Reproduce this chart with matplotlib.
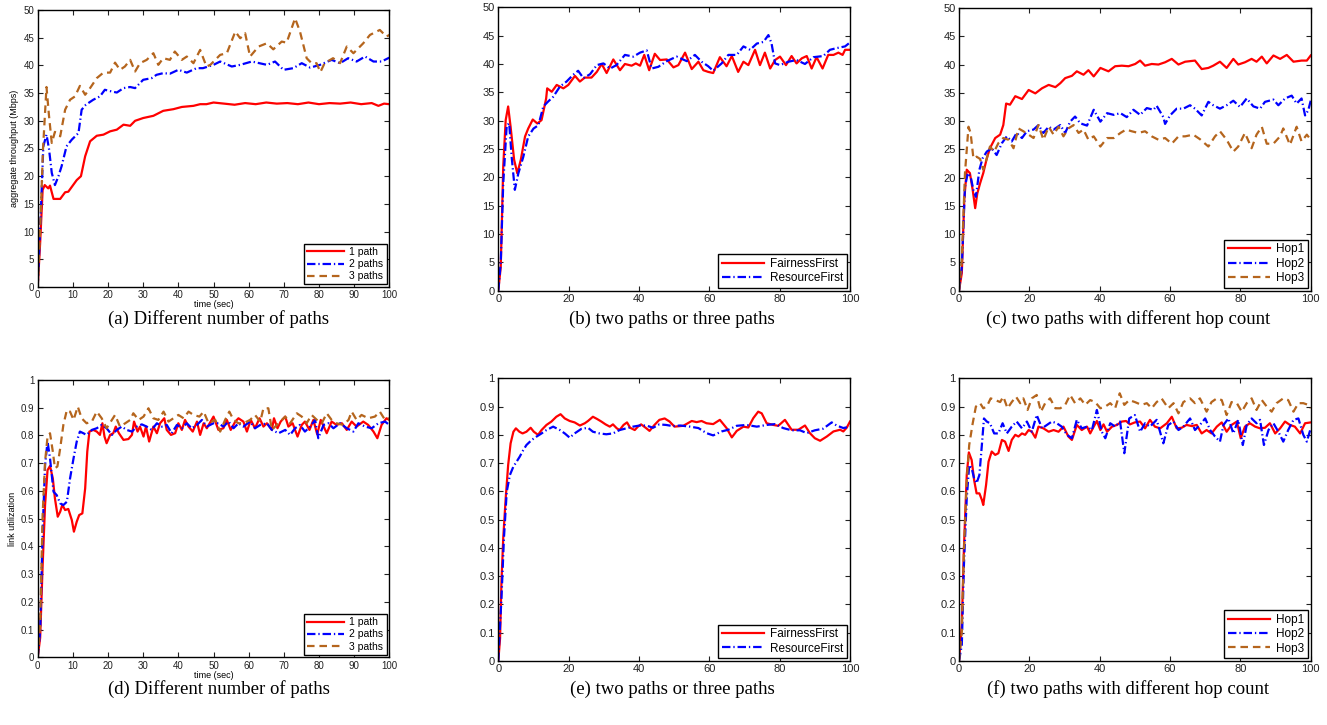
import matplotlib
matplotlib.use('Agg')
import matplotlib.pyplot as plt
from matplotlib.ticker import FuncFormatter

plt.rcParams['font.family'] = ['Liberation Sans', 'DejaVu Sans']

# ---- (a) aggregate throughput, different number of paths ----
t_a_1path = [0, 0.7, 1.4, 2, 3, 3.5, 4.5, 6.4, 7.8, 8.7, 11.1, 12.3, 13.5, 14.9, 16.8, 18.7, 20.6, 22.5, 24.4, 26.3,
             27.7, 30, 32.9, 35.7, 38.6, 41, 44.3, 46.2, 48, 50, 53, 56, 59, 62, 65, 68, 71, 74, 77, 80,
             83, 86, 89, 92, 95, 96.9, 98.5, 100]
a_1path = [0, 8, 17.5, 18.4, 17.8, 18.3, 15.9, 15.9, 17.1, 17.2, 19.3, 20.0, 23.6, 26.3, 27.3, 27.5, 28.1, 28.4, 29.3, 29.1,
           30.0, 30.5, 30.9, 31.8, 32.1, 32.5, 32.7, 33.0, 33.0, 33.3, 33.1, 32.9, 33.2, 33.0, 33.3, 33.1, 33.2, 33.0, 33.3, 33.0,
           33.2, 33.1, 33.3, 33.0, 33.2, 32.7, 33.1, 33.0]

t_a_2paths = [0, 0.8, 1.6, 2.5, 3.2, 4, 4.9, 5.9, 6.8, 8.2, 9.7, 11.6, 12.5, 13.7, 15.8, 17.7, 19.1, 21, 22.5, 24.4,
              26.3, 27.7, 30, 32.4, 33.8, 35.7, 37.6, 40, 42.4, 45.2, 47, 50, 51.9, 55.2, 57.6, 60.9, 65.2, 67.5, 69.9, 72.7,
              75.1, 77.5, 80.3, 83.6, 86, 88.3, 90.7, 93.1, 95.5, 97.8, 100]
a_2paths = [0, 12, 25.4, 27.5, 25, 20.6, 18.4, 20, 21.8, 25.4, 26.6, 27.8, 32, 32.9, 33.8, 34.4, 35.6, 35.3, 35.1, 35.9,
            36.1, 35.9, 37.4, 37.7, 38.3, 38.6, 38.5, 39.2, 38.7, 39.5, 39.5, 40.1, 40.7, 39.8, 40.1, 40.7, 40.1, 40.7, 39.2, 39.5,
            40.4, 39.6, 40.1, 41.0, 40.4, 41.3, 40.7, 41.6, 40.7, 40.7, 41.4]

t_a_3paths = [0, 0.8, 1.5, 2.5, 3.2, 4, 4.9, 6.4, 7.8, 9.2, 10.6, 12, 13.5, 14.9, 16.8, 18.7, 20.6, 22, 23.4, 24.8,
              26.3, 27.7, 29.1, 31, 32.9, 34.3, 35.7, 37.6, 39, 41, 42.4, 44.3, 46.2, 48, 49.1, 51.9, 53.8, 56.2, 57.6, 59,
              60.4, 62.8, 65.2, 67, 69.4, 70.8, 73.2, 74.6, 76.5, 77.9, 79.3, 80.4, 81.6, 84, 86, 87.9, 89.8, 92.6, 94.5, 97.3,
              99.2, 100]
a_3paths = [0, 12, 24.8, 36.1, 31, 26, 28, 27.2, 32, 33.8, 34.4, 36.3, 34.7, 35.9, 37.7, 38.7, 38.7, 40.5, 39.2, 39.8,
            41, 38.9, 40.4, 41, 42.2, 40.1, 41.3, 41, 42.5, 41, 41.6, 40.4, 42.8, 39.8, 40.1, 41.9, 42.2, 46.1, 44.9, 45.8,
            41.6, 43.4, 44, 42.9, 44.3, 44.1, 48.5, 46.1, 41.3, 40.4, 40.4, 38.8, 40.4, 41.3, 40.4, 43.4, 42.2, 44, 45.5, 46.4,
            45.2, 45.5]

# ---- (b) FairnessFirst vs ResourceFirst throughput ----
t_b_fair = [0, 0.7, 1.4, 2.1, 2.8, 3.5, 4.5, 5.4, 6.4, 7.6, 8.5, 9.8, 11.1, 12.3, 13.6, 13.9, 15.2, 16.6, 18.5, 19.9,
            21.8, 23.2, 24.6, 26.5, 28, 29.4, 30.8, 32.7, 34.6, 36, 37.9, 39.1, 40.3, 41.5, 42.9, 44.5, 46, 47.9, 49.8, 51.2,
            53.1, 55, 56.9, 58.3, 59.7, 61.1, 63, 64.9, 66.4, 68.2, 69.7, 71.1, 73, 74.4, 75.8, 77.3, 78.7, 80.1, 81.8, 83.4,
            84.8, 86.3, 87.7, 89.1, 90.5, 92.2, 93.8, 95.3, 96.7, 97.9, 98.6, 100]
b_fair = [0, 4.2, 21.9, 30.1, 32.5, 28.9, 23.1, 20.7, 23.1, 27.2, 28.6, 30.2, 29.5, 30.1, 33.9, 35.7, 35.1, 36.3, 35.7, 36.3,
          37.9, 36.9, 37.6, 37.6, 38.6, 40, 38.4, 40.8, 38.9, 40, 39.7, 40.1, 39.7, 41.6, 38.9, 41.8, 40.7, 40.8, 39.4, 39.8,
          42, 39.1, 40.4, 38.9, 38.6, 38.4, 41.2, 39.6, 41.4, 38.6, 40.4, 39.8, 42.5, 39.8, 42, 39.2, 40.7, 41.3, 39.8, 41.4,
          40.1, 41, 41.4, 39.2, 41.2, 39.2, 41.6, 41.6, 42, 41.6, 42.5, 42.5]

t_b_res = [0, 0.7, 1.4, 2.4, 3.1, 3.8, 4.7, 5.7, 7.1, 8.5, 10, 11.4, 12.8, 14.2, 15.6, 17.5, 19.4, 21.3, 22.7, 24.2,
           26.1, 28, 29.9, 31.8, 33.6, 36, 38.4, 40.3, 42.2, 43.6, 45.5, 47.9, 50.7, 53.6, 55.9, 57.8, 59.7, 61.1, 63.5, 65.4,
           67.8, 69.7, 71.6, 73.5, 75.4, 76.8, 77.7, 78.7, 80.1, 82.5, 84.8, 87.2, 89.6, 92.4, 94.3, 96.2, 98.6, 100]
b_res = [0, 5, 18.9, 29.2, 29.5, 23.6, 17.8, 20.7, 23.6, 27.2, 28.6, 29.2, 32.5, 33.4, 34.2, 36, 36.9, 38.1, 38.8, 37.5,
         38.2, 39.8, 40.1, 39.2, 39.8, 41.6, 41.3, 42, 42.4, 39.2, 39.5, 40.5, 41.3, 40.5, 41.6, 40.4, 39.6, 38.8, 40.1, 41.6,
         41.6, 43.1, 42.5, 43.6, 43.9, 45.1, 43.6, 40.1, 39.8, 40.4, 40.7, 40, 41.2, 41.4, 42.5, 42.8, 43.1, 43.8]

# ---- (c) hop count throughput ----
t_c_hop1 = [0, 0.8, 1.5, 2.2, 3.1, 3.9, 4.6, 5.2, 6, 6.9, 7.9, 8.8, 10.3, 11.7, 12.6, 13.4, 14.5, 16, 17.9, 19.8,
            21.7, 23.6, 25.5, 27.4, 28.8, 30.2, 32.1, 33.5, 35.4, 36.8, 38.3, 40.2, 42.5, 44.4, 46.3, 48.2, 50.1, 51.5, 52.9, 54.8,
            56.7, 58.6, 60.5, 62.4, 64.3, 67.1, 69, 70.9, 72.3, 74.2, 76.1, 78, 79.4, 81.3, 83.2, 84.6, 86.1, 87.5, 89.4, 91.3,
            93.2, 95.1, 97.4, 98.9, 100]
c_hop1 = [0, 3.1, 16.1, 21.4, 20.8, 17.8, 14.6, 17.2, 19, 20.8, 23.4, 25.2, 27, 27.6, 29.3, 33.1, 32.9, 34.4, 33.9, 35.5,
          34.9, 35.8, 36.4, 36, 36.7, 37.6, 38, 38.8, 38.2, 39, 37.9, 39.4, 38.8, 39.7, 39.8, 39.7, 40.1, 40.7, 39.8, 40.1,
          40, 40.4, 41, 40, 40.5, 40.7, 39.2, 39.4, 39.8, 40.5, 39.4, 41, 40, 40.4, 41, 40.5, 41.4, 40.2, 41.6, 41,
          41.7, 40.5, 40.7, 40.7, 41.6]

t_c_hop2 = [0, 0.8, 1.7, 2.5, 3.3, 4.1, 4.8, 5.8, 6.7, 7.9, 9.3, 10.7, 12.2, 13.6, 15, 16.4, 17.9, 19.3, 21.2, 22.6,
            24, 25.5, 26.9, 28.8, 30.2, 31.6, 33, 34.5, 36.4, 38.3, 40.2, 42.1, 44, 45.9, 47.7, 49.6, 51.5, 53.4, 55.3, 56.2,
            58.1, 58.6, 60, 61.9, 63.8, 65.7, 67.1, 69, 70.9, 72.3, 74.2, 76.1, 78, 79.9, 81.8, 83.7, 85.6, 87, 89.4, 90.8,
            92.7, 94.6, 96, 97.4, 98.4, 99.3, 100]
c_hop2 = [0, 4.2, 18.4, 20.8, 20.2, 17.8, 16.6, 21.4, 23.4, 24.6, 25.2, 24, 26.1, 27.3, 26.4, 27.9, 27, 28.2, 28.5, 29.3,
          27.9, 29, 28.5, 29.3, 27.9, 29.9, 30.8, 29.6, 29.2, 32, 29.9, 31.4, 31.1, 31.4, 30.7, 32, 31.1, 32.3, 32, 32.7,
          30.7, 29.5, 31, 32.2, 32.2, 32.8, 32.2, 31, 33.4, 32.8, 32.2, 32.8, 33.6, 32.5, 34, 32.6, 32.2, 33.4, 33.8, 32.8,
          34, 34.5, 33.1, 34, 31, 31.9, 33.6]

t_c_hop3 = [0, 0.8, 1.7, 2.7, 3.3, 4.1, 5, 6, 6.9, 7.9, 8.8, 10, 11.2, 12.6, 14.1, 15.5, 16.9, 18.3, 19.8, 21.2,
            22.6, 24, 25.5, 26.9, 28.3, 29.7, 31.1, 32.6, 34, 35.4, 36.8, 38.3, 40.2, 42.1, 44, 45.9, 47.5, 49.1, 51, 52.9,
            54.8, 56.7, 58.6, 60.5, 62.4, 64.3, 66.6, 68.5, 70.9, 72.8, 74.2, 76.1, 78, 79.4, 81.3, 83.2, 84.6, 86.1, 87.5, 89.4,
            91.3, 92.2, 94.1, 96, 97.4, 98.9, 100]
c_hop3 = [0, 5.4, 20.8, 29, 27.9, 23.4, 23.7, 23.3, 21.4, 23.4, 25.5, 24.6, 26.1, 27, 26.7, 25.2, 28.7, 28.2, 27.6, 27,
          29.3, 26.7, 29, 27.6, 29, 27.3, 28.7, 29.3, 27.9, 28.5, 26.7, 27.3, 25.5, 27, 27, 27.9, 28.5, 28.2, 27.9, 28.2,
          27.3, 26.7, 27, 26, 27.3, 27.3, 27.6, 26.8, 25.5, 27.3, 28.2, 26.7, 24.6, 25.5, 27.9, 25.2, 27.6, 29, 26, 26,
          27.3, 28.7, 25.8, 29, 26.4, 27.6, 26.7]

# ---- (d) link utilization, different number of paths ----
t_d_1path = [0, 0.7, 1.4, 2.1, 2.8, 3.5, 4.3, 4.9, 5.7, 6.4, 7, 7.8, 8.7, 9.7, 10.3, 11.1, 11.8, 12.7, 13.5, 14.1,
             14.7, 15.8, 16.8, 17.7, 18.4, 19, 19.6, 20.6, 21.5, 22.2, 23.1, 24.4, 25.8, 26.8, 27.4, 28.4, 29.1, 30.1, 30.8, 31.7,
             32.9, 33.9, 34.8, 36, 36.7, 37.9, 39.1, 40, 41, 41.9, 42.9, 44.1, 45.3, 46.2, 47.2, 48.1, 50, 51.4, 52.8, 53.8,
             54.9, 56.2, 57.1, 58.5, 59.5, 60.6, 61.8, 63.1, 64.2, 65.2, 66.6, 67.2, 68.2, 69.1, 70.4, 71.3, 72.5, 73.9, 75.1, 76,
             77.3, 78.4, 79.5, 80.5, 82.2, 83.6, 85, 86.5, 87.9, 89.3, 90.7, 92.6, 94, 95.5, 96.6, 97.8, 99.2, 100]
d_1path = [0, 0.07, 0.33, 0.55, 0.675, 0.69, 0.645, 0.573, 0.507, 0.525, 0.55, 0.531, 0.535, 0.495, 0.453, 0.489, 0.513, 0.519, 0.609, 0.742,
           0.814, 0.82, 0.814, 0.802, 0.844, 0.796, 0.772, 0.802, 0.808, 0.832, 0.808, 0.784, 0.787, 0.802, 0.85, 0.814, 0.832, 0.796, 0.832, 0.778,
           0.832, 0.808, 0.844, 0.862, 0.82, 0.802, 0.808, 0.844, 0.82, 0.856, 0.832, 0.814, 0.85, 0.802, 0.844, 0.826, 0.868, 0.82, 0.826, 0.856,
           0.82, 0.85, 0.862, 0.85, 0.814, 0.856, 0.826, 0.862, 0.832, 0.844, 0.82, 0.862, 0.826, 0.85, 0.868, 0.832, 0.844, 0.796, 0.838, 0.85,
           0.82, 0.856, 0.804, 0.856, 0.808, 0.85, 0.838, 0.844, 0.82, 0.85, 0.832, 0.85, 0.838, 0.814, 0.79, 0.838, 0.862, 0.856]

t_d_2paths = [0, 0.7, 1.4, 2.1, 2.8, 3.5, 4.5, 5.4, 6.4, 7.3, 8.3, 9.2, 10.2, 11.1, 12, 13, 13.9, 15.4, 16.8, 18.2,
              19.6, 21.1, 22.5, 23.9, 25.3, 26.8, 28.2, 29.6, 31, 32.4, 33.9, 35.3, 36.7, 38.1, 39.6, 41, 42.4, 43.8, 45.3, 46.7,
              48.1, 50, 51.4, 52.8, 54.3, 55.7, 57.1, 58.5, 60.4, 61.8, 63.3, 65.2, 66.6, 68.5, 70.4, 71.8, 73.2, 74.6, 76, 77.5,
              78.9, 79.8, 81.3, 82.7, 84.1, 86, 87.9, 89.8, 91.2, 93.1, 95, 96.9, 98.8, 100]
d_2paths = [0, 0.093, 0.453, 0.694, 0.778, 0.718, 0.597, 0.585, 0.555, 0.549, 0.561, 0.645, 0.718, 0.778, 0.814, 0.808, 0.802, 0.82, 0.826, 0.838,
            0.826, 0.802, 0.82, 0.832, 0.82, 0.814, 0.832, 0.84, 0.832, 0.82, 0.844, 0.832, 0.838, 0.808, 0.838, 0.826, 0.844, 0.826, 0.838, 0.856,
            0.832, 0.844, 0.844, 0.832, 0.85, 0.826, 0.844, 0.832, 0.85, 0.826, 0.838, 0.844, 0.82, 0.808, 0.82, 0.802, 0.826, 0.838, 0.814, 0.832,
            0.856, 0.79, 0.838, 0.844, 0.826, 0.844, 0.826, 0.814, 0.844, 0.832, 0.826, 0.844, 0.85, 0.838]

t_d_3paths = [0, 0.7, 1.4, 2.1, 2.8, 3.5, 4.3, 4.9, 5.6, 6.4, 7.3, 8.3, 9.2, 10.2, 11.4, 12.5, 13.9, 15.4, 16.8, 18.2,
              19.6, 21.1, 22, 23.4, 24.9, 26.3, 27.2, 28.7, 30.1, 31.5, 32.9, 34.3, 35.8, 37.2, 38.6, 40, 41.5, 42.9, 44.3, 46,
              47.2, 48.6, 50.5, 51.9, 53.3, 54.5, 55.7, 57.1, 58.5, 60.4, 61.8, 63.3, 64.2, 65.6, 66.6, 68.5, 70.4, 71.8, 73.7, 75.1,
              76.5, 77.9, 79.4, 80.8, 82.2, 83.6, 85, 86.9, 88.4, 89.3, 90.7, 92.1, 94, 95.9, 97.3, 98.8, 100]
d_3paths = [0, 0.117, 0.513, 0.706, 0.796, 0.808, 0.742, 0.682, 0.688, 0.754, 0.838, 0.892, 0.886, 0.856, 0.904, 0.862, 0.844, 0.85, 0.886, 0.862,
            0.826, 0.856, 0.874, 0.832, 0.844, 0.856, 0.88, 0.856, 0.868, 0.898, 0.862, 0.856, 0.886, 0.85, 0.862, 0.874, 0.862, 0.886, 0.874, 0.868,
            0.886, 0.844, 0.856, 0.814, 0.856, 0.886, 0.856, 0.844, 0.844, 0.856, 0.874, 0.85, 0.898, 0.898, 0.82, 0.844, 0.868, 0.844, 0.88, 0.868,
            0.844, 0.874, 0.856, 0.844, 0.88, 0.856, 0.844, 0.838, 0.856, 0.886, 0.856, 0.874, 0.862, 0.868, 0.886, 0.856, 0.862]

# ---- (e) FairnessFirst vs ResourceFirst utilization ----
t_e_fair = [0, 0.5, 0.9, 1.4, 2.1, 2.8, 3.5, 4.3, 5, 6, 6.9, 8, 9.2, 10.1, 11.3, 12.3, 13.7, 15.1, 16.5, 17.7,
            18.9, 20.3, 21.7, 23.2, 24.6, 25.5, 26.9, 28.1, 29.3, 30.5, 31.7, 32.6, 33.7, 34.5, 35.6, 36.6, 37.5, 38.8, 39.7, 40.6,
            41.9, 43, 44.4, 45.8, 47.3, 48.7, 50.1, 52.6, 55, 56.4, 57.8, 59.2, 61.1, 63, 64.9, 66.4, 67.8, 69.7, 71.1, 72.5,
            73.9, 74.9, 76.3, 78.2, 79.6, 81.5, 83.4, 85.3, 87.2, 88.6, 90, 91.5, 93.4, 95.3, 97.2, 98.1, 99.1, 100]
e_fair = [0, 0.08, 0.28, 0.434, 0.575, 0.693, 0.77, 0.811, 0.823, 0.811, 0.805, 0.811, 0.825, 0.811, 0.8, 0.817, 0.835, 0.847, 0.864, 0.873,
          0.858, 0.849, 0.844, 0.833, 0.841, 0.849, 0.864, 0.856, 0.847, 0.837, 0.829, 0.837, 0.823, 0.817, 0.835, 0.844, 0.825, 0.817, 0.829, 0.837,
          0.825, 0.814, 0.835, 0.853, 0.858, 0.847, 0.829, 0.832, 0.849, 0.845, 0.849, 0.841, 0.838, 0.853, 0.824, 0.791, 0.814, 0.829, 0.826, 0.859,
          0.882, 0.876, 0.841, 0.835, 0.832, 0.853, 0.818, 0.818, 0.833, 0.806, 0.788, 0.779, 0.794, 0.812, 0.818, 0.812, 0.826, 0.847]

t_e_res = [0, 0.5, 0.9, 1.6, 2.4, 3.3, 4.3, 5.2, 6.1, 7.1, 8, 9.5, 10.9, 12.3, 13.7, 15.6, 17.5, 18.9, 20.3, 21.7,
           23.6, 25.5, 26.9, 28.8, 30.7, 32.6, 34.5, 36.4, 38.3, 40.2, 42.1, 44, 45.8, 47.7, 49.6, 51.7, 54.5, 56.9, 59.2, 61.1,
           63.5, 65.4, 67.8, 70.6, 73.5, 76.3, 78.7, 81, 83.4, 85.8, 87.7, 90, 92.4, 94.8, 96.2, 98.1, 100]
e_res = [0, 0.127, 0.222, 0.434, 0.599, 0.658, 0.688, 0.705, 0.723, 0.746, 0.764, 0.782, 0.794, 0.805, 0.817, 0.829, 0.817, 0.805, 0.79, 0.805,
         0.821, 0.825, 0.811, 0.805, 0.802, 0.805, 0.817, 0.823, 0.829, 0.833, 0.833, 0.825, 0.837, 0.835, 0.831, 0.833, 0.829, 0.824, 0.806, 0.798,
         0.812, 0.818, 0.832, 0.835, 0.829, 0.835, 0.838, 0.824, 0.816, 0.816, 0.806, 0.816, 0.822, 0.844, 0.833, 0.824, 0.829]

# ---- (f) hop count utilization ----
t_f_hop1 = [0, 0.8, 1.4, 2.2, 2.8, 3.6, 4.3, 5, 5.8, 6.5, 6.9, 7.7, 8.4, 9.3, 10.3, 11.2, 12.2, 13.1, 14.1, 15,
            16, 16.9, 17.9, 18.8, 19.8, 20.7, 21.7, 22.6, 24, 25.5, 26.9, 28.3, 29.7, 31.1, 32.1, 33.5, 34.9, 36.4, 37.3, 38.3,
            39.2, 40.2, 41.1, 42.1, 43.5, 44.9, 46.3, 47.5, 48.6, 50, 51.5, 52.9, 54.3, 55.7, 57.2, 59.1, 60.5, 61.9, 63.3, 64.7,
            66.2, 67.6, 69, 70.4, 71.8, 73.3, 74.7, 76.1, 77.5, 79, 80.1, 81.3, 82.7, 84.2, 85.6, 87, 88.4, 89.9, 91.3, 92.7,
            94.1, 95.5, 97, 98.4, 100]
f_hop1 = [0, 0.127, 0.399, 0.658, 0.738, 0.711, 0.64, 0.593, 0.593, 0.57, 0.552, 0.623, 0.705, 0.741, 0.729, 0.735, 0.782, 0.776, 0.743, 0.782,
          0.8, 0.794, 0.805, 0.8, 0.817, 0.811, 0.79, 0.829, 0.823, 0.811, 0.817, 0.811, 0.829, 0.794, 0.782, 0.835, 0.817, 0.829, 0.805, 0.829,
          0.849, 0.817, 0.837, 0.811, 0.829, 0.835, 0.847, 0.849, 0.837, 0.844, 0.847, 0.823, 0.853, 0.829, 0.823, 0.841, 0.864, 0.823, 0.825, 0.835,
          0.831, 0.835, 0.805, 0.817, 0.805, 0.829, 0.844, 0.811, 0.835, 0.847, 0.788, 0.829, 0.841, 0.829, 0.823, 0.825, 0.841, 0.805, 0.823, 0.847,
          0.835, 0.829, 0.805, 0.841, 0.844]

t_f_hop2 = [0, 0.8, 1.4, 2.2, 2.9, 3.6, 4.3, 5, 5.8, 6.5, 7.1, 7.9, 8.8, 10, 11.2, 12.4, 13.6, 15, 16.4, 17.9,
            19.3, 20.7, 22.1, 23.6, 25, 26.4, 27.8, 29.2, 30.7, 32.1, 33.5, 34.9, 36.4, 37.8, 39.2, 40.6, 41.6, 43, 44.4, 45.8,
            47, 48.4, 50, 51.5, 52.9, 54.3, 56.2, 58.1, 59.5, 61, 62.4, 63.8, 65.7, 67.1, 68.5, 70, 71.4, 72.8, 74.2, 75.2,
            76.6, 78, 79.4, 80.7, 81.8, 83.2, 84.6, 85.6, 86.7, 88, 89.4, 90.8, 92.2, 93.6, 95.1, 96.5, 97.9, 98.9, 100]
f_hop2 = [0, 0.057, 0.34, 0.575, 0.693, 0.682, 0.646, 0.629, 0.658, 0.764, 0.858, 0.847, 0.841, 0.805, 0.805, 0.841, 0.805, 0.829, 0.847, 0.823,
          0.847, 0.811, 0.87, 0.823, 0.835, 0.847, 0.841, 0.829, 0.8, 0.788, 0.853, 0.823, 0.829, 0.817, 0.888, 0.811, 0.788, 0.841, 0.829, 0.847,
          0.735, 0.858, 0.87, 0.811, 0.841, 0.829, 0.853, 0.77, 0.835, 0.847, 0.817, 0.829, 0.858, 0.817, 0.835, 0.858, 0.817, 0.794, 0.776, 0.835,
          0.858, 0.805, 0.853, 0.764, 0.835, 0.858, 0.841, 0.853, 0.764, 0.817, 0.841, 0.811, 0.776, 0.817, 0.853, 0.858, 0.8, 0.776, 0.823]

t_f_hop3 = [0, 0.8, 1.4, 2.2, 2.9, 3.9, 4.8, 6, 6.9, 7.9, 9, 10.3, 11.7, 12.6, 13.8, 15, 16.2, 17.4, 18.3, 19.5,
            20.7, 22.1, 23.3, 24.5, 25.9, 27.4, 28.8, 30.2, 31.6, 33, 34.5, 35.9, 37.3, 38.7, 40.2, 41.6, 43, 44.4, 45.7, 47,
            48.4, 50, 51.9, 53.4, 54.8, 56.2, 57.6, 59.5, 61, 62.4, 63.8, 65.7, 67.1, 68.5, 70.4, 71.8, 73.3, 74.7, 76.1, 77.5,
            79, 80.4, 81.8, 83.2, 84.6, 86.1, 87.5, 88.9, 90.3, 92.2, 93.6, 95.1, 96.5, 97.9, 99.3, 100]
f_hop3 = [0, 0.104, 0.387, 0.634, 0.764, 0.841, 0.9, 0.912, 0.894, 0.9, 0.929, 0.923, 0.916, 0.935, 0.894, 0.916, 0.935, 0.912, 0.929, 0.888,
          0.929, 0.941, 0.882, 0.912, 0.929, 0.894, 0.894, 0.906, 0.941, 0.912, 0.929, 0.906, 0.923, 0.916, 0.894, 0.9, 0.912, 0.894, 0.947, 0.906,
          0.923, 0.916, 0.906, 0.912, 0.894, 0.916, 0.929, 0.894, 0.912, 0.876, 0.916, 0.929, 0.912, 0.929, 0.882, 0.916, 0.929, 0.923, 0.87, 0.916,
          0.912, 0.882, 0.912, 0.929, 0.888, 0.923, 0.9, 0.882, 0.912, 0.929, 0.923, 0.882, 0.912, 0.912, 0.906, 0.894]

labels_paths = ['1 path', '2 paths', '3 paths']
labels_policy = ['FairnessFirst', 'ResourceFirst']
labels_hops = ['Hop1', 'Hop2', 'Hop3']
captions = ['(a) Different number of paths', '(b) two paths or three paths', '(c) two paths with different hop count',
            '(d) Different number of paths', '(e) two paths or three paths', '(f) two paths with different hop count']

RED = '#ff0000'
BLUE = '#0000ff'
BROWN = '#b5651d'
W, H = 1327, 725


def style(i):
    # solid red, dash-dot blue, dashed brown (matlab style)
    if i == 0:
        return dict(color=RED, lw=1.6, ls='-')
    if i == 1:
        return dict(color=BLUE, lw=1.6, ls=(0, (3.8, 1.3, 0.6, 1.3)))
    return dict(color=BROWN, lw=1.6, ls=(0, (3.4, 2.2)))


def make_axes(fig, left, top, right, bottom):
    return fig.add_axes([left / W, 1 - bottom / H, (right - left) / W, (bottom - top) / H])


def setup(ax, ymax, ystep, xstep, fs):
    ax.set_xlim(0, 100)
    ax.set_ylim(0, ymax)
    ax.set_xticks([x for x in range(0, 101, xstep)])
    n = int(round(ymax / ystep))
    ax.set_yticks([k * ystep for k in range(n + 1)])
    ax.yaxis.set_major_formatter(FuncFormatter(lambda v, p: '%g' % round(v, 3)))
    ax.tick_params(direction='in', top=True, right=True, length=3.5, width=0.8,
                   labelsize=fs, pad=2.5, colors='#222222', labelcolor='#222222')
    for s in ax.spines.values():
        s.set_linewidth(1.0)
        s.set_color('black')


def draw(ax, series, labels, fs_leg):
    for i, (t, v) in enumerate(series):
        ax.plot(t, v, label=labels[i], **style(i))
    leg = ax.legend(loc='lower right', fontsize=fs_leg, frameon=True, fancybox=False,
                    edgecolor='black', framealpha=1, borderaxespad=0.25, handlelength=3.6,
                    borderpad=0.3, labelspacing=0.2, handletextpad=0.5)
    leg.get_frame().set_linewidth(1.0)


fig = plt.figure(figsize=(W / 100, H / 100), dpi=100)

ax_a = make_axes(fig, 37.7, 10, 389.3, 287)
draw(ax_a, [(t_a_1path, a_1path), (t_a_2paths, a_2paths), (t_a_3paths, a_3paths)], labels_paths, 7.5)
setup(ax_a, 50, 5, 10, 7)
ax_a.set_ylabel('aggregate throughput (Mbps)', fontsize=6.5, labelpad=3)
ax_a.set_xlabel('time (sec)', fontsize=6.5, labelpad=0)

ax_b = make_axes(fig, 498.3, 7.3, 850, 290.7)
draw(ax_b, [(t_b_fair, b_fair), (t_b_res, b_res)], labels_policy, 8.5)
setup(ax_b, 50, 5, 20, 8)

ax_c = make_axes(fig, 959, 8, 1310.7, 290.7)
draw(ax_c, [(t_c_hop1, c_hop1), (t_c_hop2, c_hop2), (t_c_hop3, c_hop3)], labels_hops, 8.5)
setup(ax_c, 50, 5, 20, 8)

ax_d = make_axes(fig, 37.7, 380, 389.3, 657.3)
draw(ax_d, [(t_d_1path, d_1path), (t_d_2paths, d_2paths), (t_d_3paths, d_3paths)], labels_paths, 7.5)
setup(ax_d, 1, 0.1, 10, 7)
ax_d.set_ylabel('link utilization', fontsize=6.5, labelpad=3)
ax_d.set_xlabel('time (sec)', fontsize=6.5, labelpad=0)

ax_e = make_axes(fig, 498.3, 378.3, 850, 661)
draw(ax_e, [(t_e_fair, e_fair), (t_e_res, e_res)], labels_policy, 8.5)
setup(ax_e, 1, 0.1, 20, 8)

ax_f = make_axes(fig, 959, 378.3, 1310.7, 661)
draw(ax_f, [(t_f_hop1, f_hop1), (t_f_hop2, f_hop2), (t_f_hop3, f_hop3)], labels_hops, 8.5)
setup(ax_f, 1, 0.1, 20, 8)

cap_x = [219, 672, 1128]
cap_y = [319, 689]
for k, cap in enumerate(captions):
    fig.text(cap_x[k % 3] / W, 1 - cap_y[k // 3] / H, cap, ha='center', va='center',
             fontsize=13.5, family='Liberation Serif')

fig.savefig('out.png', dpi=100)
